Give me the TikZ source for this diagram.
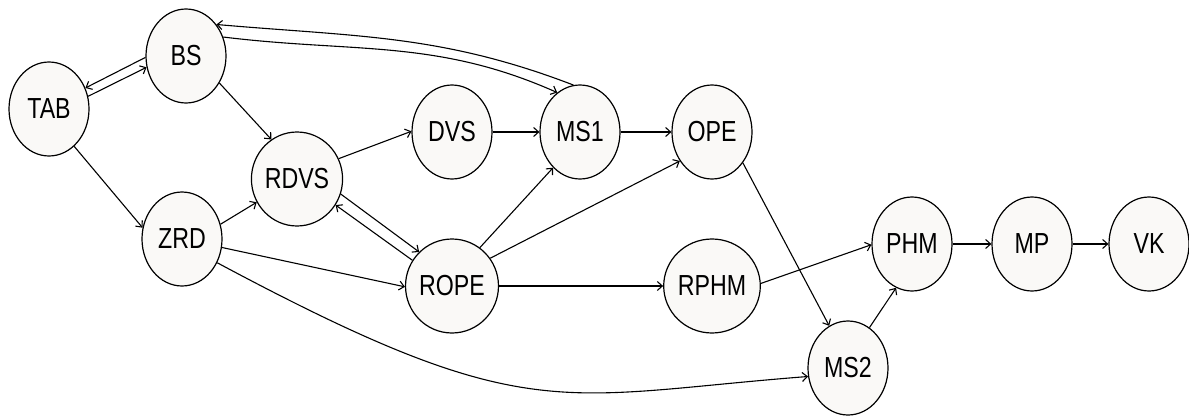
\documentclass[tikz,border=0pt]{standalone}
\usepackage{fontspec}
\setmainfont{Liberation Sans}[FakeStretch=0.8]
\usetikzlibrary{shapes.geometric,arrows.meta}
\definecolor{nodefill}{RGB}{250,249,247}
\begin{document}
\begin{tikzpicture}[x=1pt,y=1pt,
  st/.style={ellipse, draw, line width=1.2pt, minimum width=80pt, minimum height=94pt,
    inner sep=0pt, fill=nodefill, font=\fontsize{29}{30}\selectfont},
  arr/.style={line width=1.1pt, -{Straight Barb[length=5pt,width=9pt]}}]
\useasboundingbox[fill=white] (0,0) rectangle (1189,416);
\node[st] (TAB) at (49,307) {TAB};
\node[st] (BS) at (186,360) {BS};
\node[st] (ZRD) at (182,177) {ZRD};
\node[st] (RDVS) at (297,237) {RDVS};
\node[st] (DVS) at (452,284) {DVS};
\node[st] (MS1) at (580,284) {MS1};
\node[st] (OPE) at (712,284) {OPE};
\node[st] (ROPE) at (452,130) {ROPE};
\node[st] (RPHM) at (712,130) {RPHM};
\node[st] (PHM) at (912,172) {PHM};
\node[st] (MP) at (1032,172) {MP};
\node[st] (VK) at (1149,172) {VK};
\node[st] (MS2) at (848,48) {MS2};

\draw[arr] (BS.182) -- (TAB.30);
\draw[arr] (TAB.18) -- (BS.196);
\draw[arr] (BS.-39) -- (RDVS.123);
\draw[arr] (TAB.-56) -- (ZRD.164);
\draw[arr] (ZRD.21) -- (RDVS.-150);
\draw[arr] (RDVS.26) -- (DVS.179);
\draw[arr] (DVS) -- (MS1);
\draw[arr] (MS1) -- (OPE);
\draw[arr] (MS1.98) to[out=159,in=-5] (BS.46);
\draw[arr] (BS.27) to[out=-7,in=156] (MS1.120);
\draw[arr] (RDVS.-19) -- (ROPE.134);
\draw[arr] (ROPE.147) -- (RDVS.-34);
\draw[arr] (ZRD.-12) -- (ROPE.181);
\draw[arr] (ZRD.-34) .. controls (528,-13) and (557,20) .. (MS2.192);
\draw[arr] (ROPE.54) -- (MS1.-127);
\draw[arr] (ROPE.36) -- (OPE.-138);
\draw[arr] (ROPE) -- (RPHM);
\draw[arr] (RPHM.3) -- (PHM.181);
\draw[arr] (OPE.-45) -- (MS2.114);
\draw[arr] (MS2.62) -- (PHM.-110);
\draw[arr] (PHM) -- (MP);
\draw[arr] (MP) -- (VK);
\end{tikzpicture}
\end{document}
